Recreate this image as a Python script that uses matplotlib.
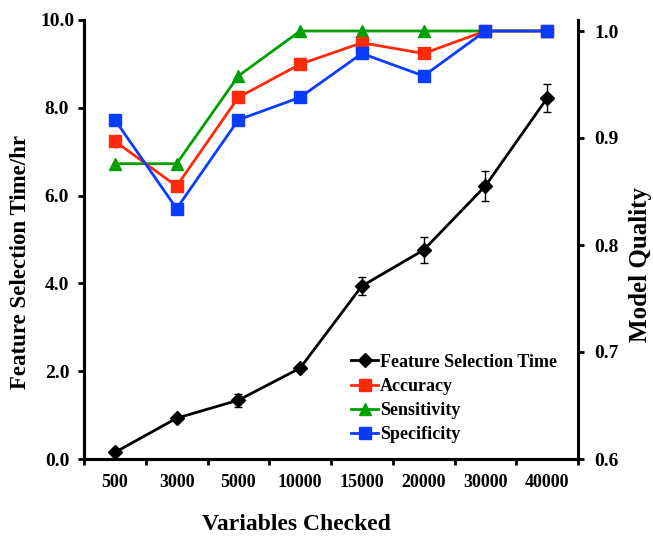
import matplotlib
matplotlib.use("Agg")
import matplotlib.pyplot as plt
import numpy as np

categories = ["500", "3000", "5000", "10000", "15000", "20000", "30000", "40000"]
time_hr = [0.15, 0.93, 1.34, 2.07, 3.94, 4.76, 6.22, 8.22]
time_err = [0.0, 0.05, 0.15, 0.05, 0.2, 0.30, 0.34, 0.32]
accuracy = [0.897, 0.855, 0.938, 0.969, 0.989, 0.979, 1.0, 1.0]
sensitivity = [0.876, 0.876, 0.958, 1.0, 1.0, 1.0, 1.0, 1.0]
specificity = [0.917, 0.834, 0.917, 0.938, 0.979, 0.958, 1.0, 1.0]

plt.rcParams['font.family'] = ['Liberation Serif', 'DejaVu Serif']
plt.rcParams['font.weight'] = 'bold'

W, H = 653, 538
fig = plt.figure(figsize=(6.53, 5.38), dpi=100)
ax = fig.add_axes([84/W, 1-459/H, (578-84)/W, (459-20)/H])
ax2 = ax.twinx()

x = np.arange(len(categories))
RED = '#ff2a0a'
GREEN = '#00a000'
BLUE = '#0a3cff'

l1 = ax.errorbar(x, time_hr, yerr=time_err, color='black', lw=2.0, marker='D',
                 markersize=7, capsize=3, elinewidth=1.0, capthick=1.0,
                 label='Feature Selection Time', zorder=5)
ax.set_ylim(0, 10)
ax.set_xlim(-0.5, len(categories) - 0.5)

ln_s, = ax2.plot(x, sensitivity, color=GREEN, lw=2.0, marker='^', markersize=9,
                 label='Sensitivity', zorder=3)
ln_a, = ax2.plot(x, accuracy, color=RED, lw=2.0, marker='s', markersize=8.5,
                 label='Accuracy', zorder=4)
ln_p, = ax2.plot(x, specificity, color=BLUE, lw=2.0, marker='s', markersize=8.5,
                 label='Specificity', zorder=5)
ax2.set_ylim(0.6, 1.0 + 11/1070)

ax.set_yticks(np.arange(0, 10.01, 2.0))
ax.set_yticklabels([f"{v:.1f}" for v in np.arange(0, 10.01, 2.0)])
ax2.set_yticks([0.6, 0.7, 0.8, 0.9, 1.0])
ax2.set_yticklabels(["0.6", "0.7", "0.8", "0.9", "1.0"])

# x ticks: marks at boundaries, labels at centers
ax.set_xticks(np.arange(-0.5, len(categories) - 0.4, 1.0))
ax.set_xticklabels([])
ax.set_xticks(x, minor=True)
ax.set_xticklabels(categories, minor=True)
ax.tick_params(axis='x', which='minor', length=0, pad=10.5, labelsize=13)
ax.tick_params(axis='x', which='major', length=4, width=2, direction='out')
ax.tick_params(axis='y', length=4, width=2, direction='out', labelsize=14, pad=15.4)
ax2.tick_params(axis='y', length=4, width=2, direction='out', labelsize=14, pad=8)
for lbl in ax.get_yticklabels():
    lbl.set_horizontalalignment('center')

for a in (ax, ax2):
    a.spines['top'].set_visible(False)
    for s in ('left', 'bottom', 'right'):
        a.spines[s].set_linewidth(2.2)
ax.spines['right'].set_visible(False)

fig.text(21/W, 1-262/H, "Feature Selection Time/hr", rotation=90, fontsize=16.5,
         fontweight='bold', ha='center', va='center')
fig.text(640/W, 1-265/H, "Model Quality", rotation=90, fontsize=18,
         fontweight='bold', ha='center', va='center')
fig.text(296/W, 1-530/H, "Variables Checked", fontsize=17,
         fontweight='bold', ha='center', va='baseline')

handles = [l1.lines[0], ln_a, ln_s, ln_p]
labels = ['Feature Selection Time', 'Accuracy', 'Sensitivity', 'Specificity']
leg = ax2.legend(handles, labels, loc='upper left', bbox_to_anchor=(0.534, 0.248),
                 frameon=False, fontsize=13, handlelength=1.5, handletextpad=0.1,
                 labelspacing=0.4, borderpad=0.2, borderaxespad=0)

fig.savefig("out.png", dpi=100)
